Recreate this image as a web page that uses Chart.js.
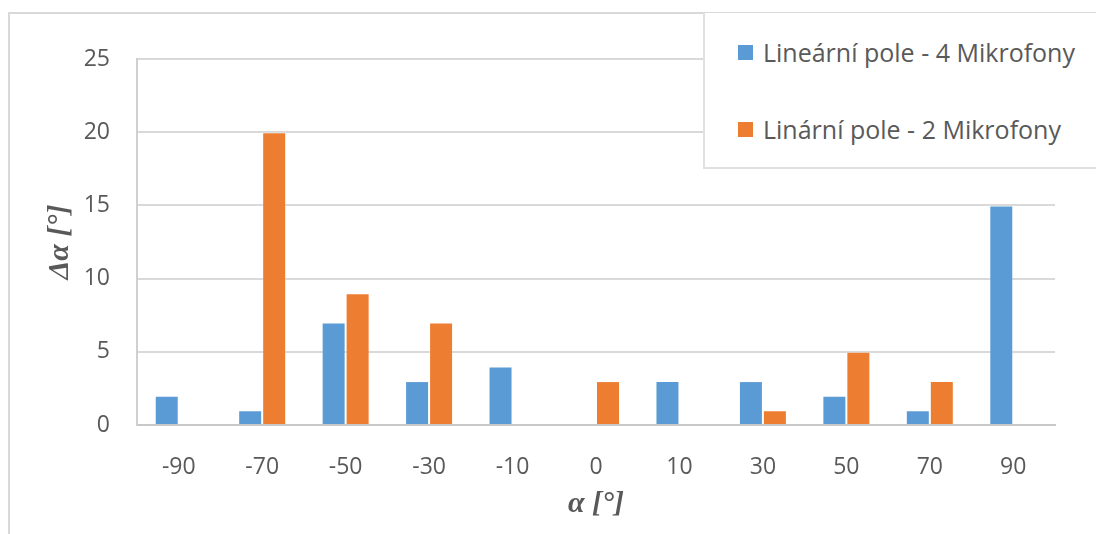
<!DOCTYPE html>
<html lang="cs">

<head>
    <meta charset="UTF-8">
    <title>Chyba odhadu úhlu</title>
    <script src="https://cdn.jsdelivr.net/npm/chart.js"></script>
    <style>
        html, body {
            margin: 0;
            padding: 0;
            background: #fff;
            width: 1096px;
            height: 534px;
            overflow: hidden;
            font-family: 'Open Sans', sans-serif;
        }

        .frame {
            position: absolute;
            left: 8px;
            top: 12px;
            right: 0;
            bottom: 0;
            border-left: 2px solid #d9d9d9;
            border-top: 2px solid #d9d9d9;
        }

        .chart-box {
            position: absolute;
            left: 0;
            top: 0;
            width: 1096px;
            height: 534px;
        }

        .legend {
            position: absolute;
            left: 703px;
            top: 13px;
            width: 400px;
            height: 154px;
            background: #fff;
            border-left: 2px solid #e0e0e0;
            border-bottom: 2px solid #e0e0e0;
            z-index: 2;
        }

        .legend .item {
            position: absolute;
            left: 33px;
            display: flex;
            align-items: center;
            font-size: 25px;
            color: #595959;
            white-space: nowrap;
        }

        .legend .swatch {
            width: 15px;
            height: 15px;
            margin-right: 10px;
        }
    </style>
</head>

<body>
    <div class="frame"></div>
    <div class="chart-box">
        <canvas id="errChart" width="1096" height="534"></canvas>
    </div>
    <div class="legend" id="legend"></div>

    <script>
        // uhly (kategorie na ose x)
        const angles = ['-90', '-70', '-50', '-30', '-10', '0', '10', '30', '50', '70', '90'];
        // chyba odhadu pro 4 mikrofony
        const err4Mic = [2, 1, 7, 3, 4, 0, 3, 3, 2, 1, 15];
        // chyba odhadu pro 2 mikrofony
        const err2Mic = [0, 20, 9, 7, 0, 3, 0, 1, 5, 3, 0];
        const seriesNames = ['Lineární pole - 4 Mikrofony', 'Linární pole - 2 Mikrofony'];
        const seriesColors = ['#5b9bd5', '#ed7d31'];
        const yTicks = [0, 5, 10, 15, 20, 25];

        const textColor = '#595959';

        const ctx = document.getElementById('errChart').getContext('2d');
        new Chart(ctx, {
            type: 'bar',
            data: {
                labels: angles,
                datasets: [{
                    label: seriesNames[0],
                    data: err4Mic,
                    backgroundColor: seriesColors[0],
                    borderColor: 'rgba(255,255,255,0.3)',
                    borderWidth: 1
                }, {
                    label: seriesNames[1],
                    data: err2Mic,
                    backgroundColor: seriesColors[1],
                    borderColor: 'rgba(255,255,255,0.3)',
                    borderWidth: 1
                }]
            },
            options: {
                responsive: false,
                animation: false,
                layout: {
                    padding: { top: 59, right: 41, left: 0, bottom: 0 }
                },
                datasets: {
                    bar: { categoryPercentage: 0.575, barPercentage: 1 }
                },
                plugins: {
                    legend: { display: false },
                    tooltip: { enabled: false }
                },
                scales: {
                    x: {
                        grid: { display: false },
                        border: { color: '#c8c8c8', width: 2 },
                        ticks: {
                            color: textColor,
                            font: { family: 'Open Sans', size: 23 },
                            padding: 21,
                            maxRotation: 0
                        },
                        title: {
                            display: true,
                            text: 'α [°]',
                            color: textColor,
                            font: { family: 'Liberation Serif', size: 30, style: 'italic', weight: 'bold' },
                            padding: { top: 0, bottom: 12 }
                        },
                        afterFit: s => { s.height = 109; }
                    },
                    y: {
                        min: 0,
                        max: 25,
                        afterBuildTicks: s => { s.ticks = yTicks.map(v => ({ value: v })); },
                        grid: { color: '#d9d9d9', lineWidth: 2, drawTicks: false },
                        border: { color: '#d0d0d0', width: 2 },
                        ticks: {
                            color: textColor,
                            font: { family: 'Open Sans', size: 23 },
                            padding: 27
                        },
                        title: {
                            display: true,
                            text: 'Δα [°]',
                            color: textColor,
                            font: { family: 'Liberation Serif', size: 30, style: 'italic', weight: 'bold' },
                            padding: { top: 42, bottom: 0 }
                        },
                        afterFit: s => { s.width = 137; }
                    }
                }
            }
        });

        // legenda v ramecku vpravo nahore
        const legendEl = document.getElementById('legend');
        const rowTops = [40, 117];
        seriesNames.forEach((name, i) => {
            const item = document.createElement('div');
            item.className = 'item';
            item.style.top = (rowTops[i] - 18) + 'px';
            item.innerHTML = '<span class="swatch" style="background:' + seriesColors[i] + '"></span><span>' + name + '</span>';
            legendEl.appendChild(item);
        });
    </script>
</body>

</html>
